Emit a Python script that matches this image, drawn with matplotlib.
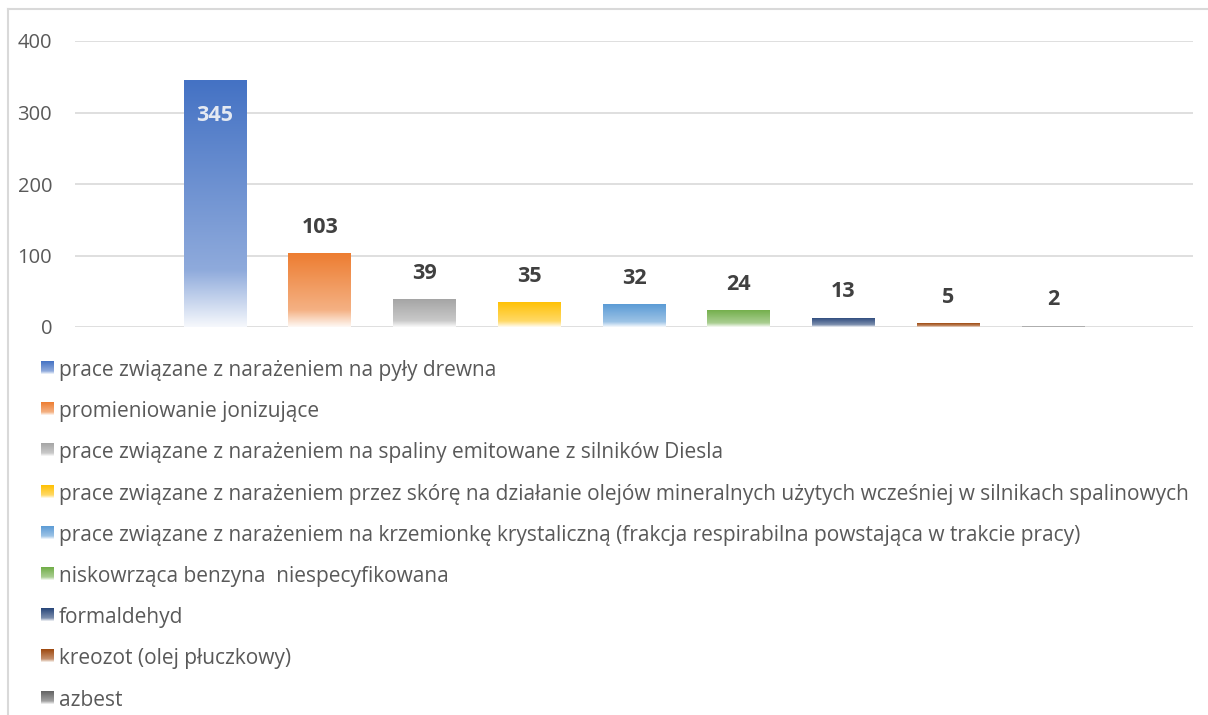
import numpy as np
import matplotlib
matplotlib.use("Agg")
import matplotlib.pyplot as plt
from matplotlib.colors import LinearSegmentedColormap, to_rgb
from matplotlib.patches import Rectangle
from matplotlib.lines import Line2D

# --- data ---
series = [
    "prace związane z narażeniem na pyły drewna",
    "promieniowanie jonizujące",
    "prace związane z narażeniem na spaliny emitowane z silników Diesla",
    "prace związane z narażeniem przez skórę na działanie olejów mineralnych użytych wcześniej w silnikach spalinowych",
    "prace związane z narażeniem na krzemionkę krystaliczną (frakcja respirabilna powstająca w trakcie pracy)",
    "niskowrząca benzyna  niespecyfikowana",
    "formaldehyd",
    "kreozot (olej płuczkowy)",
    "azbest",
]
values = [345, 103, 39, 35, 32, 24, 13, 5, 2]
colors = ["#4472C4", "#ED7D31", "#A5A5A5", "#FFC000", "#5B9BD5",
          "#70AD47", "#264478", "#9E480E", "#636363"]
yticks = [0, 100, 200, 300, 400]

FONT = ["Open Sans", "DejaVu Sans"]
plt.rcParams["font.family"] = FONT

W, H = 1208, 715
fig = plt.figure(figsize=(W / 100, H / 100), dpi=100)
fig.patch.set_facecolor("white")


def tint(c, t):
    r = np.array(to_rgb(c))
    return tuple(r + (1 - r) * t)


def grad_cmap(c):
    # bottom -> top: nearly white, light tint, full colour
    return LinearSegmentedColormap.from_list(
        "g", [(0.0, tint(c, 0.95)), (0.23, tint(c, 0.4)), (1.0, tint(c, 0.0))])


# --- plot area (pixel positions from the reference) ---
left, right, top, bottom = 75, 1193, 41, 327
ax = fig.add_axes([left / W, 1 - bottom / H, (right - left) / W, (bottom - top) / H])
ax.set_facecolor("none")

x = np.arange(len(values))
bw = 0.6
bars = ax.bar(x, values, width=bw, color=colors, edgecolor="none", zorder=2)
grad = np.linspace(0, 1, 256).reshape(-1, 1)
for b, c in zip(bars, colors):
    im = ax.imshow(grad, extent=[b.get_x(), b.get_x() + b.get_width(), 0, b.get_height()],
                   origin="lower", aspect="auto", cmap=grad_cmap(c), zorder=3)
    im.set_clip_path(b)
    b.set_facecolor("none")

ax.set_xlim(-1.336, 9.336)
ax.set_ylim(0, 400)
ax.set_yticks(yticks)
ax.set_xticks([])
for t in yticks:
    ax.axhline(t, color="#D9D9D9", lw=1.2, zorder=1)
for s in ax.spines.values():
    s.set_visible(False)
ax.tick_params(axis="y", length=0, pad=16.5, labelsize=14.5, labelcolor="#595959")

for i, v in enumerate(values):
    if i == 0:
        ax.annotate(str(v), (x[i], v), xytext=(0, -33), textcoords="offset points",
                    ha="center", va="bottom", fontsize=15.5, fontweight="bold",
                    color="#E4E9F2", zorder=5)
    else:
        ax.annotate(str(v), (x[i], v), xytext=(0, 11), textcoords="offset points",
                    ha="center", va="bottom", fontsize=15.5, fontweight="bold",
                    color="#404040", zorder=5)

# --- overlay in pixel coordinates: border and legend ---
ov = fig.add_axes([0, 0, 1, 1])
ov.set_xlim(0, W)
ov.set_ylim(H, 0)
ov.axis("off")
ov.add_line(Line2D([8, 8], [9, H], color="#D9D9D9", lw=1.5))
ov.add_line(Line2D([8, W], [9, 9], color="#D9D9D9", lw=1.5))

row0, step = 368, 41.2
for i, (name, c) in enumerate(zip(series, colors)):
    yc = row0 + i * step
    box = Rectangle((41, yc - 7), 13, 13, facecolor="none", edgecolor="none")
    ov.add_patch(box)
    im = ov.imshow(grad[::-1], extent=[41, 54, yc + 6, yc - 7], origin="upper",
                   aspect="auto", cmap=grad_cmap(c))
    im.set_clip_path(box)
    ov.text(59, yc + 2.5, name, ha="left", va="center", fontsize=15.0, color="#595959")
ov.set_xlim(0, W)
ov.set_ylim(H, 0)

fig.savefig("out.png", dpi=100, facecolor="white")
